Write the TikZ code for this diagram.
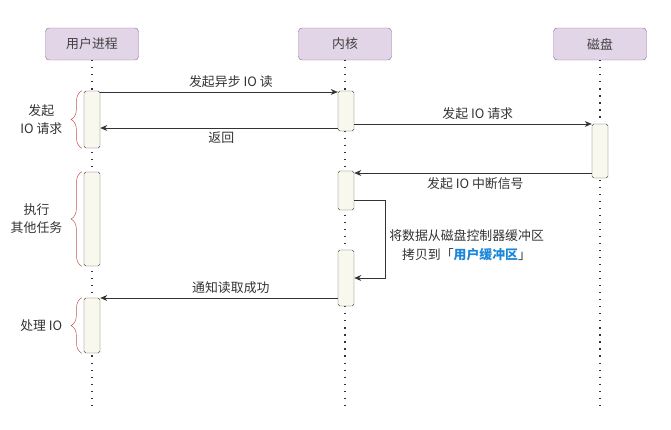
\documentclass[tikz,border=0pt]{standalone}
\usepackage{fontspec}
\setmainfont{Noto Sans CJK SC}
\usetikzlibrary{arrows.meta,positioning,fit,calc,decorations.pathreplacing}
\definecolor{headfill}{HTML}{E1D5E7}
\definecolor{headdraw}{HTML}{9673A6}
\definecolor{actfill}{HTML}{F9F8EE}
\definecolor{bracered}{HTML}{C0504D}
\definecolor{bufblue}{HTML}{1C86D8}

\begin{document}
\begin{tikzpicture}[
    x=0.3mm,
    y=-0.3mm,
    font=\fontsize{11}{15.5}\selectfont,
    head/.style={
        draw=headdraw,
        fill=headfill,
        rounded corners=3pt,
        minimum width=27.9mm,
        minimum height=9.6mm,
        text=black!75
    },
    act/.style={
        draw=black!70,
        fill=actfill,
        rounded corners=1.5pt,
        inner sep=0pt
    },
    life/.style={black!80, line width=1pt, dash pattern=on 1pt off 5pt},
    msg/.style={-{Stealth[length=6pt,width=5pt]}, black!80, line width=0.6pt},
    lbl/.style={text=black!80, align=center},
    brace/.style={decorate, decoration={brace, amplitude=3.2mm}, draw=bracered, thin}
]
\useasboundingbox (0,0) rectangle (671,429);

% ---- Participants ----
\node[head] (user) at (92,44) {用户进程};
\node[head] (kernel) at (345,44) {内核};
\node[head] (disk) at (600,44) {磁盘};

% ---- Lifelines ----
\coordinate (bottom) at (0,410);
\draw[life] (user.south) -- (user.south |- bottom);
\draw[life] (kernel.south) -- (kernel.south |- bottom);
\draw[life] (disk.south) -- (disk.south |- bottom);

% ---- Activations ----
\node[act, fit={(84,91) (100,148)}] (u1) {};
\node[act, fit={(84,172) (100,266)}] (u2) {};
\node[act, fit={(84,298) (100,353)}] (u3) {};
\node[act, fit={(338,91) (354,131)}] (k1) {};
\node[act, fit={(338,171) (354,210)}] (k2) {};
\node[act, fit={(338,250) (354,306)}] (k3) {};
\node[act, fit={(592,124) (608,178)}] (d1) {};

% ---- Message rows ----
\coordinate (r1) at (0,92);
\coordinate (r2) at (0,128);
\coordinate (r3) at (0,124);
\coordinate (r4) at (0,173);
\coordinate (r5) at (0,200);
\coordinate (r6) at (0,278);
\coordinate (r7) at (0,298);
\coordinate (loopR) at (385,0);

% ---- Messages ----
\draw[msg] (u1.east |- r1) -- node[lbl, above, pos=0.55] {发起异步 IO 读} (k1.west |- r1);
\draw[msg] (k1.west |- r2) -- node[lbl, below, pos=0.49] {返回} (u1.east |- r2);
\draw[msg] (k1.east |- r3) -- node[lbl, above, pos=0.52] {发起 IO 请求} (d1.west |- r3);
\draw[msg] (d1.west |- r4) -- node[lbl, below, pos=0.49] {发起 IO 中断信号} (k2.east |- r4);
\draw[msg] (k2.east |- r5) -- (loopR |- r5)
    -- node[lbl, right, pos=0.58] {将数据从磁盘控制器缓冲区\\拷贝到「{\bfseries\color{bufblue}用户缓冲区}」} (loopR |- r6)
    -- (k3.east |- r6);
\draw[msg] (k3.west |- r7) -- node[lbl, above, pos=0.45] {通知读取成功} (u3.east |- r7);

% ---- Braces ----
\draw[brace] ([xshift=-0.6mm]u1.south west) -- ([xshift=-0.6mm]u1.north west)
    node[lbl, midway, left=4.6mm] (t1) {发起\\IO 请求};
\draw[brace] ([xshift=-0.6mm]u2.south west) -- ([xshift=-0.6mm]u2.north west)
    node[lbl, midway, left=4.6mm] (t2) {执行\\其他任务};
\draw[brace] ([xshift=-0.6mm]u3.south west) -- ([xshift=-0.6mm]u3.north west)
    node[lbl, midway, left=4.6mm] (t3) {处理 IO};

\end{tikzpicture}
\end{document}
